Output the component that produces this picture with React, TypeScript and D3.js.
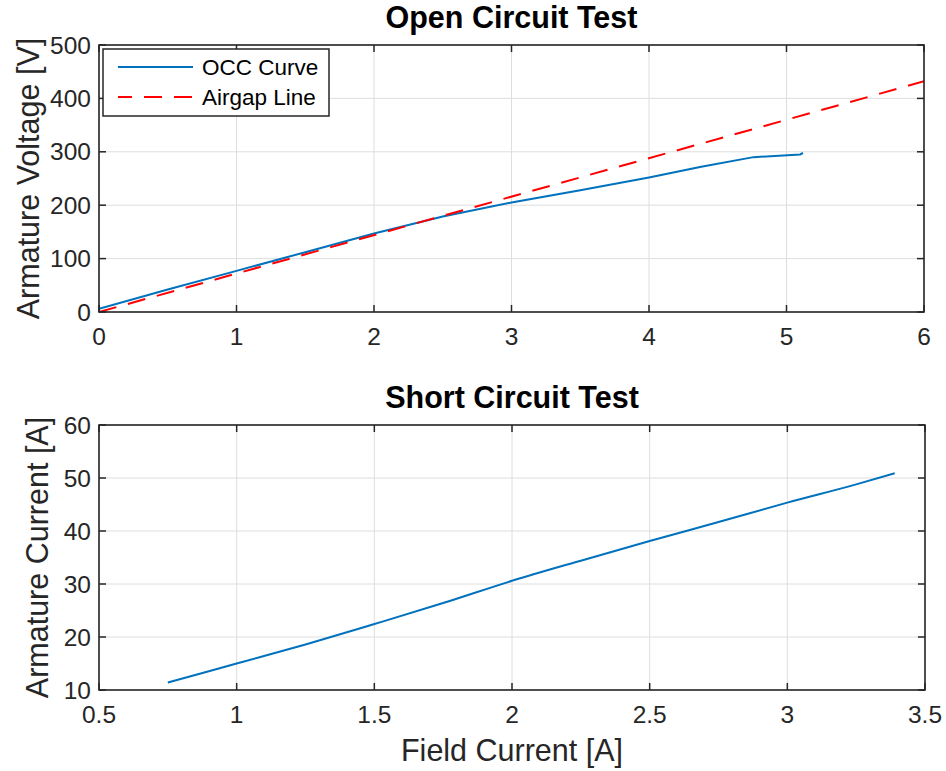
import React from "react";
import * as d3 from "d3";

// Open-circuit characteristic: field current [A] vs armature voltage [V]
const occField = [0, 0.5, 1, 1.5, 2, 2.5, 3, 3.5, 4, 4.38, 4.76, 5.1, 5.12];
const occVoltage = [6, 42, 77, 112, 147, 179, 205, 228, 252, 272, 290, 295, 298];

// Air-gap line (linear extension of the OCC)
const airField = [0, 6];
const airVoltage = [0, 432];

// Short-circuit characteristic: field current [A] vs armature current [A]
const sccField = [0.75, 1, 1.25, 1.5, 1.75, 2, 2.25, 2.5, 2.75, 3, 3.25, 3.39];
const sccCurrent = [11.4, 15.0, 18.6, 22.45, 26.4, 30.6, 34.4, 38.1, 41.7, 45.35, 48.8, 50.9];

const ocXTicks = [0, 1, 2, 3, 4, 5, 6];
const ocYTicks = [0, 100, 200, 300, 400, 500];
const scXTicks = [0.5, 1, 1.5, 2, 2.5, 3, 3.5];
const scYTicks = [10, 20, 30, 40, 50, 60];

const legendLabels = ["OCC Curve", "Airgap Line"];

const W = 946;
const H = 771;
const FONT = "'Liberation Sans', Arial, Helvetica, sans-serif";
const AXIS = "#262626";
const GRID = "#dedede";
const BLUE = "#0072BD";
const RED = "#FF0000";
const TICK_LEN = 7;
const TICK_FONT = 24.5;
const LABEL_FONT = 30.5;

type PanelProps = {
  x: d3.ScaleLinear<number, number>;
  y: d3.ScaleLinear<number, number>;
  xTicks: number[];
  yTicks: number[];
  title: string;
  yLabel: string;
  yLabelX: number;
  children?: React.ReactNode;
};

function Panel({ x, y, xTicks, yTicks, title, yLabel, yLabelX, children }: PanelProps) {
  const [x0, x1] = x.range();
  const [y0, y1] = y.range(); // y0 bottom, y1 top
  const fmt = (v: number) => d3.format("~g")(v);
  const clipId = "clip-" + title.replace(/\s+/g, "");
  return (
    <g>
      <defs>
        <clipPath id={clipId}>
          <rect x={x0} y={y1} width={x1 - x0} height={y0 - y1} />
        </clipPath>
      </defs>
      {/* grid */}
      {xTicks.map((t) => (
        <line key={"gx" + t} x1={x(t)} x2={x(t)} y1={y0} y2={y1} stroke={GRID} strokeWidth={1} />
      ))}
      {yTicks.map((t) => (
        <line key={"gy" + t} x1={x0} x2={x1} y1={y(t)} y2={y(t)} stroke={GRID} strokeWidth={1} />
      ))}
      <g clipPath={`url(#${clipId})`}>{children}</g>
      {/* ticks on all four sides, pointing inward */}
      {xTicks.map((t) => (
        <g key={"tx" + t}>
          <line x1={x(t)} x2={x(t)} y1={y0} y2={y0 - TICK_LEN} stroke={AXIS} strokeWidth={1.5} />
          <line x1={x(t)} x2={x(t)} y1={y1} y2={y1 + TICK_LEN} stroke={AXIS} strokeWidth={1.5} />
          <text x={x(t)} y={y0 + 33} textAnchor="middle" fontSize={TICK_FONT} fill={AXIS} fontFamily={FONT}>
            {fmt(t)}
          </text>
        </g>
      ))}
      {yTicks.map((t) => (
        <g key={"ty" + t}>
          <line x1={x0} x2={x0 + TICK_LEN} y1={y(t)} y2={y(t)} stroke={AXIS} strokeWidth={1.5} />
          <line x1={x1} x2={x1 - TICK_LEN} y1={y(t)} y2={y(t)} stroke={AXIS} strokeWidth={1.5} />
          <text x={x0 - 8} y={y(t)} dy="0.35em" textAnchor="end" fontSize={TICK_FONT} fill={AXIS} fontFamily={FONT}>
            {fmt(t)}
          </text>
        </g>
      ))}
      <rect x={x0} y={y1} width={x1 - x0} height={y0 - y1} fill="none" stroke={AXIS} strokeWidth={1.6} />
      <text
        x={(x0 + x1) / 2}
        y={y1 - 17}
        textAnchor="middle"
        fontSize={LABEL_FONT}
        fontWeight="bold"
        fill="#000"
        fontFamily={FONT}
      >
        {title}
      </text>
      <text
        transform={`translate(${yLabelX},${(y0 + y1) / 2}) rotate(-90)`}
        textAnchor="middle"
        fontSize={LABEL_FONT}
        fill={AXIS}
        fontFamily={FONT}
      >
        {yLabel}
      </text>
    </g>
  );
}

export default function App() {
  const xOc = d3.scaleLinear().domain([0, 6]).range([99, 924]);
  const yOc = d3.scaleLinear().domain([0, 500]).range([312, 45]);
  const xSc = d3.scaleLinear().domain([0.5, 3.5]).range([99, 925]);
  const ySc = d3.scaleLinear().domain([10, 60]).range([690, 425]);

  const occPts = occField.map((f, i) => [f, occVoltage[i]] as [number, number]);
  const airPts = airField.map((f, i) => [f, airVoltage[i]] as [number, number]);
  const sccPts = sccField.map((f, i) => [f, sccCurrent[i]] as [number, number]);

  const lineOc = d3
    .line<[number, number]>()
    .x((d) => xOc(d[0]))
    .y((d) => yOc(d[1]));
  const lineSc = d3
    .line<[number, number]>()
    .x((d) => xSc(d[0]))
    .y((d) => ySc(d[1]))
    .curve(d3.curveMonotoneX);

  const legX = 103;
  const legY = 49;
  const legW = 226;
  const legH = 67;
  const rowY = [67, 97];
  const styles = [
    { stroke: BLUE, dash: undefined as string | undefined },
    { stroke: RED, dash: "18 12" },
  ];

  return (
    <svg
      width={W}
      height={H}
      viewBox={`0 0 ${W} ${H}`}
      style={{ position: "absolute", left: 0, top: 0, background: "#fff" }}
    >
      <rect width={W} height={H} fill="#fff" />
      <Panel
        x={xOc}
        y={yOc}
        xTicks={ocXTicks}
        yTicks={ocYTicks}
        title="Open Circuit Test"
        yLabel="Armature Voltage [V]"
        yLabelX={39}
      >
        <path d={lineOc(occPts) || ""} fill="none" stroke={BLUE} strokeWidth={2} />
        <path d={lineOc(airPts) || ""} fill="none" stroke={RED} strokeWidth={2} strokeDasharray="18 12" />
      </Panel>

      {/* legend */}
      <g>
        <rect x={legX} y={legY} width={legW} height={legH} fill="#fff" stroke={AXIS} strokeWidth={1.5} />
        {legendLabels.map((lab, i) => (
          <g key={lab}>
            <line
              x1={118}
              x2={193}
              y1={rowY[i]}
              y2={rowY[i]}
              stroke={styles[i].stroke}
              strokeWidth={2}
              strokeDasharray={styles[i].dash}
              strokeDashoffset={i === 1 ? 4 : 0}
            />
            <text x={202} y={rowY[i]} dy="0.35em" fontSize={22.5} fill="#000" fontFamily={FONT}>
              {lab}
            </text>
          </g>
        ))}
      </g>

      <Panel
        x={xSc}
        y={ySc}
        xTicks={scXTicks}
        yTicks={scYTicks}
        title="Short Circuit Test"
        yLabel="Armature Current [A]"
        yLabelX={48}
      >
        <path d={lineSc(sccPts) || ""} fill="none" stroke={BLUE} strokeWidth={2} />
      </Panel>

      <text
        x={(xSc.range()[0] + xSc.range()[1]) / 2}
        y={761}
        textAnchor="middle"
        fontSize={LABEL_FONT}
        fill={AXIS}
        fontFamily={FONT}
      >
        Field Current [A]
      </text>
    </svg>
  );
}
